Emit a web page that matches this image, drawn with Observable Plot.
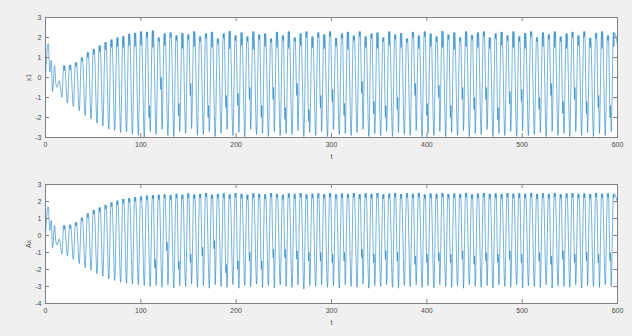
<!DOCTYPE html>
<html><head><meta charset="utf-8">
<script src="https://cdn.jsdelivr.net/npm/d3@7"></script>
<script src="https://cdn.jsdelivr.net/npm/@observablehq/plot@0.6"></script>
<style>
html,body{margin:0;padding:0;background:#f0f0f0;}
#wrap{width:632px;height:336px;overflow:hidden;}
#wrap svg{display:block;}
</style></head><body><div id="wrap"></div>
<script>
// ---- data ----
const xTicks = [0, 100, 200, 300, 400, 500, 600];
const x1Ticks = [-3, -2, -1, 0, 1, 2, 3];
const axTicks = [-4, -3, -2, -1, 0, 1, 2, 3];

// early transient (t < 19)
const earlyT  = [0, 2.8, 4.6, 6.0, 7.4, 9.5, 10.9, 12.3, 14.4, 17.2];
const x1Early = [0.05, 1.7, 0.27, 0.85, -0.7, 0.6, -0.3, -0.5, -0.15, -1.0];
const axEarly = [0.0, 1.7, 0.3, 0.88, -0.72, 0.6, -0.35, -0.55, -0.2, -1.1];

// peak time of each oscillation cycle
const cycleT = [19.6, 25.8, 32.0, 38.2, 44.4, 50.6, 56.8, 63.0, 69.2, 75.4,
  81.6, 87.8, 94.0, 100.2, 106.4, 112.6, 118.8, 125.0, 131.2, 137.4,
  143.6, 149.8, 156.0, 162.2, 168.4, 174.6, 180.8, 187.0, 193.2, 199.4,
  205.6, 211.8, 218.0, 224.2, 230.4, 236.6, 242.8, 249.0, 255.2, 261.4,
  267.6, 273.8, 280.0, 286.2, 292.4, 298.6, 304.8, 311.0, 317.2, 323.4,
  329.6, 335.8, 342.0, 348.2, 354.4, 360.6, 366.8, 373.0, 379.2, 385.4,
  391.6, 397.8, 404.0, 410.2, 416.4, 422.6, 428.8, 435.0, 441.2, 447.4,
  453.6, 459.8, 466.0, 472.2, 478.4, 484.6, 490.8, 497.0, 503.2, 509.4,
  515.6, 521.8, 528.0, 534.2, 540.4, 546.6, 552.8, 559.0, 565.2, 571.4,
  577.6, 583.8, 590.0, 596.2];

// x1: peak, notch dip at the peak, trough of each cycle
const x1Pk = [0.6, 0.63, 0.76, 1.0, 1.26, 1.43, 1.6, 1.77, 1.9, 2.0,
  2.07, 2.18, 2.23, 2.3, 2.28, 2.35, 2.0, 2.2, 2.25, 2.1,
  2.22, 2.15, 2.3, 2.05, 2.2, 2.28, 1.95, 2.2, 2.32, 2.1,
  2.25, 2.05, 2.3, 2.15, 2.2, 1.95, 2.28, 2.1, 2.3, 2.0,
  2.2, 2.3, 2.05, 2.25, 2.15, 2.3, 1.98, 2.2, 2.28, 2.1,
  2.3, 2.05, 2.2, 2.25, 2.0, 2.3, 2.15, 2.22, 1.95, 2.28,
  2.1, 2.3, 2.2, 2.05, 2.32, 2.15, 2.25, 2.0, 2.3, 2.12,
  2.25, 2.3, 2.0, 2.2, 2.28, 2.1, 2.3, 2.05, 2.22, 2.3,
  2.0, 2.25, 2.15, 2.3, 2.05, 2.2, 2.28, 2.1, 2.3, 1.98,
  2.22, 2.3, 2.1, 2.25];
const x1Nt = [0.35, 0.4, 0.55, 0.8, 1.0, 1.15, 1.3, 1.4, 1.5, 1.55,
  1.5, 1.6, 1.55, 1.6, 2.0, 1.5, 1.8, 1.6, 2.0, 1.85,
  1.45, 1.9, 1.55, 1.8, 1.95, 1.5, 1.7, 1.95, 1.45, 1.85,
  1.6, 1.8, 1.4, 1.9, 1.55, 1.75, 1.5, 1.85, 1.45, 1.8,
  1.6, 2.0, 1.5, 2.0, 1.45, 2.05, 1.55, 1.95, 1.4, 1.85,
  2.05, 1.5, 1.95, 1.45, 1.8, 1.6, 1.9, 1.5, 1.75, 2.0,
  1.45, 2.05, 1.55, 1.8, 1.5, 1.9, 1.4, 1.8, 1.55, 1.9,
  1.5, 2.05, 1.45, 1.95, 1.6, 1.85, 1.5, 1.8, 1.45, 2.05,
  1.8, 1.55, 1.9, 1.5, 1.8, 1.45, 2.0, 1.6, 2.05, 1.5,
  1.95, 1.45, 1.85, 1.55];
const x1Tr = [-1.27, -1.44, -1.66, -1.91, -2.08, -2.28, -2.42, -2.58, -2.65, -2.75,
  -2.72, -2.83, -2.9, -3.0, -2.7, -2.85, -2.6, -2.9, -2.95, -2.7,
  -2.8, -2.55, -2.9, -2.85, -2.7, -2.95, -2.8, -2.6, -2.9, -2.75,
  -2.95, -2.6, -2.85, -2.8, -2.95, -2.7, -2.9, -2.8, -2.85, -2.65,
  -2.95, -2.75, -2.9, -2.7, -2.95, -2.6, -2.85, -2.8, -2.9, -2.75,
  -2.6, -2.95, -2.8, -2.9, -2.7, -2.95, -2.75, -2.85, -2.9, -2.65,
  -2.95, -2.8, -2.9, -2.7, -2.95, -2.75, -2.9, -2.65, -2.95, -2.8,
  -2.85, -2.6, -2.95, -2.8, -2.9, -2.7, -2.95, -2.65, -2.9, -2.85,
  -2.75, -2.95, -2.7, -2.9, -2.8, -2.95, -2.7, -2.9, -2.75, -2.95,
  -2.8, -2.9, -2.7, null];
// x1: cycles whose falling edge has a shallow dip, and the dip value
const x1ShCycle = [14, 16, 19, 21, 24, 27, 29, 31, 33, 35, 37, 39, 41, 43, 45, 47, 50, 52, 54,
  56, 59, 61, 63, 65, 67, 69, 71, 73, 75, 77, 80, 82, 84, 86, 88, 90, 92];
const x1ShVal = [-2.0, -0.6, -1.9, -0.9, -2.0, -1.5, -1.4, -1.1, -2.0, -1.1, -2.1, -0.9, -2.2, -1.5, -1.2, -1.9, -0.8, -1.8, -2.0,
  -1.6, -0.9, -1.9, -1.0, -2.0, -1.1, -1.6, -1.1, -2.1, -1.3, -1.2, -1.6, -0.9, -1.8, -1.1, -1.8, -1.5, -2.0];
const x1End = 1.6;

// Ax
const axPk = [0.6, 0.63, 0.78, 1.05, 1.3, 1.5, 1.65, 1.8, 1.95, 2.05,
  2.15, 2.2, 2.25, 2.3, 2.35, 2.38, 2.4, 2.42, 2.38, 2.45,
  2.4, 2.48, 2.42, 2.45, 2.5, 2.4, 2.45, 2.48, 2.42, 2.5,
  2.45, 2.4, 2.48, 2.45, 2.42, 2.5, 2.45, 2.4, 2.48, 2.45,
  2.5, 2.42, 2.46, 2.48, 2.44, 2.5, 2.42, 2.47, 2.45, 2.5,
  2.43, 2.48, 2.45, 2.5, 2.42, 2.47, 2.5, 2.44, 2.48, 2.45,
  2.5, 2.42, 2.47, 2.45, 2.5, 2.44, 2.48, 2.45, 2.5, 2.43,
  2.47, 2.5, 2.45, 2.48, 2.44, 2.5, 2.46, 2.48, 2.45, 2.5,
  2.43, 2.48, 2.45, 2.5, 2.44, 2.47, 2.5, 2.45, 2.48, 2.44,
  2.5, 2.46, 2.48, 2.45];
const axNt = [0.35, 0.4, 0.55, 0.85, 1.05, 1.25, 1.4, 1.55, 1.7, 1.8,
  1.9, 1.95, 2.0, 2.05, 2.1, 2.15, 2.12, 2.2, 2.1, 2.2,
  2.15, 2.22, 2.15, 2.2, 2.25, 2.15, 2.2, 2.2, 2.15, 2.25,
  2.2, 2.12, 2.22, 2.2, 2.15, 2.25, 2.2, 2.12, 2.22, 2.18,
  2.25, 2.15, 2.2, 2.22, 2.18, 2.25, 2.15, 2.2, 2.2, 2.25,
  2.15, 2.22, 2.18, 2.25, 2.15, 2.2, 2.25, 2.18, 2.22, 2.2,
  2.25, 2.15, 2.2, 2.18, 2.25, 2.18, 2.22, 2.2, 2.25, 2.15,
  2.2, 2.25, 2.18, 2.22, 2.18, 2.25, 2.2, 2.22, 2.2, 2.25,
  2.15, 2.22, 2.18, 2.25, 2.18, 2.2, 2.25, 2.2, 2.22, 2.18,
  2.25, 2.2, 2.22, 2.2];
const axTr = [-1.2, -1.4, -1.65, -1.9, -2.05, -2.25, -2.4, -2.55, -2.65, -2.75,
  -2.8, -2.85, -2.9, -2.95, -3.0, -2.95, -3.05, -2.9, -3.1, -2.95,
  -3.0, -2.85, -3.05, -2.95, -3.1, -2.9, -3.0, -3.05, -2.9, -3.1,
  -2.95, -3.0, -2.85, -3.05, -2.95, -3.1, -2.9, -3.0, -3.05, -2.9,
  -3.15, -2.95, -3.0, -2.9, -3.05, -2.95, -3.1, -2.9, -3.0, -3.05,
  -2.85, -3.1, -2.95, -3.0, -2.9, -3.05, -3.1, -2.95, -3.0, -2.9,
  -3.05, -2.95, -3.1, -2.9, -3.0, -3.05, -2.95, -3.1, -2.9, -3.0,
  -3.05, -2.95, -3.1, -2.9, -3.0, -3.05, -2.9, -3.1, -2.95, -3.0,
  -3.05, -2.9, -3.1, -2.95, -3.0, -3.05, -2.9, -3.1, -2.95, -3.0,
  -3.05, -2.9, -3.0, null];
const axShCycle = [15, 17, 19, 21, 23, 25, 27, 29, 31, 33, 35, 37, 39, 41, 43, 45, 47, 50, 52,
  54, 56, 59, 61, 63, 65, 67, 69, 71, 73, 75, 77, 80, 82, 84, 86, 88, 90, 92];
const axShVal = [-1.9, -0.9, -2.0, -1.6, -1.2, -0.8, -2.2, -2.0, -1.5, -2.0, -1.3, -1.3, -1.4, -1.5, -1.5, -1.6, -1.5, -1.3, -1.6,
  -1.4, -1.5, -1.7, -1.6, -1.5, -1.6, -1.4, -1.7, -1.5, -1.6, -1.4, -1.6, -1.5, -1.7, -1.4, -1.6, -1.5, -1.6, -1.5];
const axEnd = 1.9;

// waveform timing within a cycle (time units after the peak)
const humpHalf = 0.5, shDown = 2.2, shUp = 2.6, trLag = 3.4, tEnd = 600;
const x1Rebound = 0.6, axRebound = 0.5;

function buildSeries(early, pk, nt, tr, shCycle, shVal, rebound, endV) {
  const pts = earlyT.map((t, i) => ({t, v: early[i]}));
  const sh = new Map(shCycle.map((c, i) => [c, shVal[i]]));
  cycleT.forEach((T, i) => {
    pts.push({t: T - humpHalf, v: pk[i]});
    pts.push({t: T, v: nt[i]});
    pts.push({t: T + humpHalf, v: pk[i]});
    if (sh.has(i)) {
      pts.push({t: T + shDown, v: sh.get(i)});
      pts.push({t: T + shUp, v: sh.get(i) + rebound});
    }
    if (tr[i] != null) pts.push({t: T + trLag, v: tr[i]});
  });
  pts.push({t: tEnd, v: endV});
  return pts;
}

const x1Data = buildSeries(x1Early, x1Pk, x1Nt, x1Tr, x1ShCycle, x1ShVal, x1Rebound, x1End);
const axData = buildSeries(axEarly, axPk, axNt, axTr, axShCycle, axShVal, axRebound, axEnd);

function panel(data, yDomain, yTicks, yLabel, mt, mb) {
  const W = 632, H = 168, ml = 45, mr = 15;
  const ih = H - mt - mb, iw = W - ml - mr, tk = 4;
  const axisColor = "#808080";
  return Plot.plot({
    width: W, height: H, marginLeft: ml, marginRight: mr, marginTop: mt, marginBottom: mb,
    style: {background: "#f0f0f0", fontFamily: "'Liberation Sans', Arial, sans-serif", fontSize: "7px", color: "#4a4a4a", overflow: "visible"},
    x: {domain: [0, 600], ticks: xTicks, tickSize: 0, tickPadding: 5, tickFormat: d => String(d),
        label: "t", labelAnchor: "center", labelOffset: 21, labelArrow: "none"},
    y: {domain: yDomain, ticks: yTicks, tickSize: 0, tickPadding: 4, tickFormat: d => String(d),
        label: yLabel, labelAnchor: "center", labelOffset: 19, labelArrow: "none"},
    marks: [
      Plot.frame({fill: "white", stroke: null}),
      Plot.line(data, {x: "t", y: "v", stroke: "#0072BD", strokeWidth: 0.55, curve: "monotone-x", clip: true}),
      Plot.ruleX(xTicks, {x: d => d, stroke: axisColor, insetBottom: ih - tk}),
      Plot.ruleX(xTicks, {x: d => d, stroke: axisColor, insetTop: ih - tk}),
      Plot.ruleY(yTicks, {y: d => d, stroke: axisColor, insetRight: iw - tk}),
      Plot.ruleY(yTicks, {y: d => d, stroke: axisColor, insetLeft: iw - tk}),
      Plot.frame({stroke: axisColor, strokeWidth: 1})
    ]
  });
}

const wrap = document.getElementById("wrap");
wrap.appendChild(panel(x1Data, [-3, 3], x1Ticks, "x1", 17, 31));
wrap.appendChild(panel(axData, [-4, 3], axTicks, "Ax", 16, 33));
</script></body></html>
